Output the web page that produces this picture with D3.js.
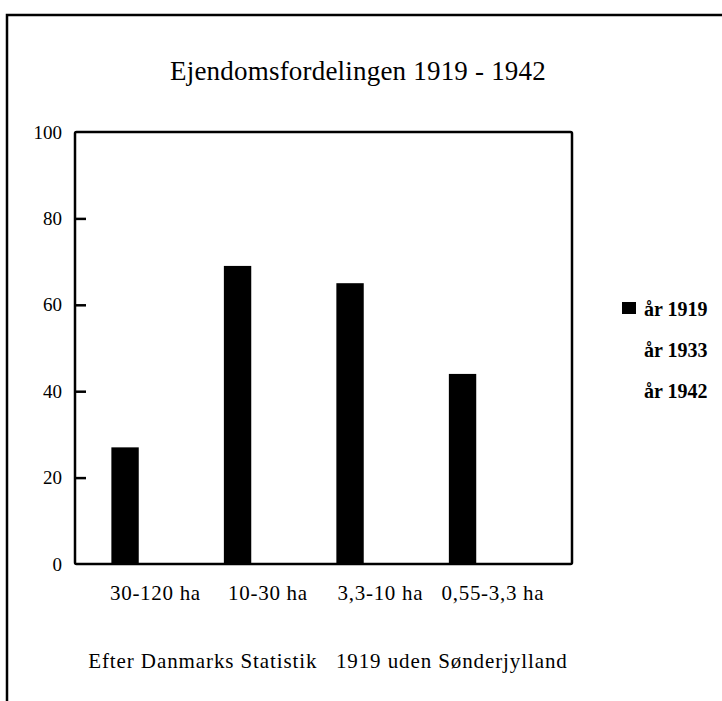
<!DOCTYPE html>
<html>
<head>
<meta charset="utf-8">
<script src="https://cdn.jsdelivr.net/npm/d3@7"></script>
<style>
  html, body { margin: 0; padding: 0; background: #fff; }
  svg { display: block; font-family: "Liberation Serif", "DejaVu Serif", serif; }
</style>
</head>
<body>
<div id="chart"></div>
<script>
const categories = ["30-120 ha", "10-30 ha", "3,3-10 ha", "0,55-3,3 ha"];
const seriesNames = ["år 1919", "år 1933", "år 1942"];
// 1933 and 1942 are printed white on white in the source, nothing readable
const values1919 = [27, 69, 65, 44];
const values1933 = [0, 0, 0, 0];
const values1942 = [0, 0, 0, 0];
const yTicks = [0, 20, 40, 60, 80, 100];
const seriesColors = ["#000", "#fff", "#fff"];

const width = 722;
const height = 701;
const plot = { left: 75, right: 572, top: 132, bottom: 564 };

const table = categories.map((c, i) => ({
  category: c,
  values: [values1919[i], values1933[i], values1942[i]],
}));

const svg = d3
  .select("#chart")
  .append("svg")
  .attr("width", width)
  .attr("height", height);

// outer frame (only top and left edges show in the scan)
svg.append("path")
  .attr("d", `M7,${height} L7,15 L${width},15`)
  .attr("fill", "none")
  .attr("stroke", "#000")
  .attr("stroke-width", 2.5);

svg.append("text")
  .attr("x", 358)
  .attr("y", 80)
  .attr("text-anchor", "middle")
  .attr("font-size", 27)
  .attr("letter-spacing", 0.2)
  .text("Ejendomsfordelingen 1919 - 1942");

const y = d3.scaleLinear().domain([0, 100]).range([plot.bottom, plot.top]);

const x0 = d3
  .scaleBand()
  .domain(categories)
  .range([plot.left, plot.right])
  .paddingInner(0.27)
  .paddingOuter(0.344)
  .align(0.47);

const x1 = d3
  .scaleBand()
  .domain(seriesNames)
  .range([0, x0.bandwidth()]);

const color = d3.scaleOrdinal().domain(seriesNames).range(seriesColors);

// bars
const groups = svg
  .selectAll("g.group")
  .data(table)
  .enter()
  .append("g")
  .attr("class", "group")
  .attr("transform", (d) => `translate(${x0(d.category)},0)`);

groups
  .selectAll("rect")
  .data((d) => d.values.map((v, i) => ({ name: seriesNames[i], value: v })))
  .enter()
  .append("rect")
  .attr("x", (d) => x1(d.name))
  .attr("y", (d) => y(d.value))
  .attr("width", x1.bandwidth())
  .attr("height", (d) => y(0) - y(d.value))
  .attr("fill", (d) => color(d.name));

// y axis, ticks pointing inward
const yAxis = d3
  .axisRight(y)
  .tickValues(yTicks.filter((t) => t > 0 && t < 100))
  .tickSize(11)
  .tickFormat("");

svg.append("g")
  .attr("transform", `translate(${plot.left},0)`)
  .call(yAxis)
  .call((g) => g.select(".domain").remove())
  .call((g) => g.selectAll("line").attr("stroke", "#000").attr("stroke-width", 2.5));

svg.append("g")
  .selectAll("text")
  .data(yTicks)
  .enter()
  .append("text")
  .attr("x", plot.left - 13)
  .attr("y", (d) => y(d))
  .attr("dy", "0.35em")
  .attr("text-anchor", "end")
  .attr("font-size", 19)
  .text((d) => d);

// plot frame
svg.append("rect")
  .attr("x", plot.left)
  .attr("y", plot.top)
  .attr("width", plot.right - plot.left)
  .attr("height", plot.bottom - plot.top)
  .attr("fill", "none")
  .attr("stroke", "#000")
  .attr("stroke-width", 2.5)
  .attr("rx", 1.5);

// category labels
svg.append("g")
  .selectAll("text")
  .data(categories)
  .enter()
  .append("text")
  .attr("x", (d) => x0(d) + x0.bandwidth() / 2 + 3)
  .attr("y", 600)
  .attr("text-anchor", "middle")
  .attr("font-size", 21)
  .attr("letter-spacing", 0.7)
  .text((d) => d);

svg.append("text")
  .attr("x", 328)
  .attr("y", 668)
  .attr("text-anchor", "middle")
  .attr("font-size", 21)
  .attr("letter-spacing", 0.9)
  .attr("xml:space", "preserve")
  .text("Efter Danmarks Statistik   1919 uden Sønderjylland");

// legend
const legend = svg
  .selectAll("g.legend")
  .data(seriesNames)
  .enter()
  .append("g")
  .attr("class", "legend")
  .attr("transform", (d, i) => `translate(622,${302 + i * 41})`);

legend.append("rect")
  .attr("width", 14)
  .attr("height", 12)
  .attr("fill", (d) => color(d));

legend.append("text")
  .attr("x", 22)
  .attr("y", 14)
  .attr("font-size", 20)
  .attr("font-weight", "bold")
  .text((d) => d);
</script>
</body>
</html>
